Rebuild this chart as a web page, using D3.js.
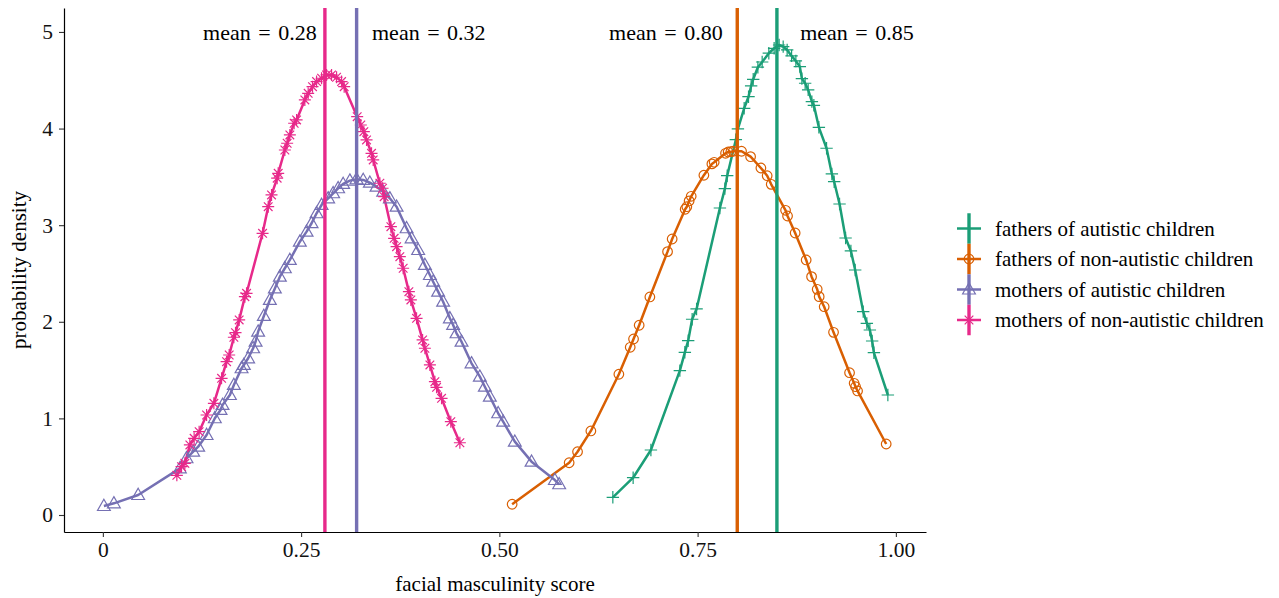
<!DOCTYPE html>
<html>
<head>
<meta charset="utf-8">
<script src="https://cdn.jsdelivr.net/npm/d3@7"></script>
<style>
  html, body { margin: 0; padding: 0; background: #fff; }
  svg { display: block; }
  text { font-family: "Liberation Serif", "DejaVu Serif", serif; }
</style>
</head>
<body>
<svg id="chart" width="1279" height="598"></svg>
<script>
// ---------- data ----------
const seriesNames = ["fathers of autistic children", "fathers of non-autistic children",
                     "mothers of autistic children", "mothers of non-autistic children"];
const seriesColors = ["#1B9E77", "#D95F02", "#7570B3", "#E7298A"];
const seriesShapes = ["plus", "circle", "triangle", "asterisk"];

const meanValues = [0.85, 0.80, 0.32, 0.28];
const meanLabels = ["mean = 0.85", "mean = 0.80", "mean = 0.32", "mean = 0.28"];
const meanLabelX = [0.951, 0.710, 0.411, 0.198];
const meanLabelY = 5;

const xTicks = [0, 0.25, 0.5, 0.75, 1];
const xTickLabels = ["0", "0.25", "0.50", "0.75", "1.00"];
const yTicks = [0, 1, 2, 3, 4, 5];

// fathers of autistic children: [score, density]
const fathersAutistic = [
  [0.6431,0.183],[0.6687,0.386],[0.6911,0.673],[0.7276,1.494],[0.7339,1.684],[0.7381,1.804],
  [0.7431,2.026],[0.7487,2.133],[0.7781,3.178],[0.7844,3.378],[0.7873,3.512],[0.7982,3.885],
  [0.8008,3.996],[0.8087,4.210],[0.8142,4.330],[0.8175,4.441],[0.8201,4.510],[0.8260,4.635],
  [0.8314,4.689],[0.8398,4.780],[0.8465,4.831],[0.8528,4.865],[0.8579,4.848],[0.8629,4.814],
  [0.8685,4.752],[0.8739,4.700],[0.8789,4.641],[0.8815,4.517],[0.8856,4.469],[0.8894,4.400],
  [0.8941,4.279],[0.8966,4.241],[0.9029,4.013],[0.9126,3.796],[0.9193,3.530],[0.9222,3.450],
  [0.9290,3.219],[0.9366,2.867],[0.9433,2.733],[0.9487,2.536],[0.9588,2.105],[0.9634,1.984],
  [0.9672,1.915],[0.9701,1.801],[0.9723,1.680],[0.9899,1.242]
];
// fathers of non-autistic children
const fathersNonAutistic = [
  [0.5161,0.111],[0.5880,0.541],[0.5986,0.655],[0.6154,0.870],[0.6507,1.457],[0.6650,1.736],
  [0.6692,1.822],[0.6763,1.964],[0.6898,2.257],[0.7121,2.726],[0.7179,2.857],[0.7343,3.165],
  [0.7364,3.191],[0.7393,3.251],[0.7419,3.299],[0.7579,3.517],[0.7680,3.634],[0.7709,3.651],
  [0.7852,3.744],[0.7885,3.758],[0.7919,3.761],[0.7948,3.765],[0.8054,3.765],[0.8168,3.709],
  [0.8298,3.592],[0.8377,3.512],[0.8428,3.423],[0.8609,3.154],[0.8634,3.095],[0.8730,2.919],
  [0.8869,2.640],[0.8937,2.467],[0.9008,2.336],[0.9033,2.260],[0.9096,2.156],[0.9214,1.891],
  [0.9416,1.473],[0.9474,1.363],[0.9492,1.328],[0.9517,1.284],[0.9878,0.735]
];
// mothers of autistic children
const mothersAutistic = [
  [0.0013,0.093],[0.0139,0.121],[0.0445,0.207],[0.0971,0.483],[0.1055,0.587],[0.1139,0.655],
  [0.1202,0.707],[0.1308,0.828],[0.1412,1.001],[0.1484,1.087],[0.1509,1.139],[0.1602,1.242],
  [0.1652,1.346],[0.1749,1.519],[0.1778,1.553],[0.1832,1.622],[0.1895,1.726],[0.1926,1.794],
  [0.1958,1.898],[0.2030,2.060],[0.2106,2.226],[0.2169,2.345],[0.2232,2.467],[0.2295,2.554],
  [0.2358,2.640],[0.2484,2.829],[0.2569,2.933],[0.2632,3.020],[0.2695,3.123],[0.2758,3.209],
  [0.2841,3.278],[0.2904,3.330],[0.2967,3.382],[0.3030,3.427],[0.3115,3.461],[0.3199,3.475],
  [0.3283,3.468],[0.3367,3.440],[0.3451,3.399],[0.3535,3.347],[0.3619,3.278],[0.3704,3.191],
  [0.3830,2.968],[0.3893,2.864],[0.3976,2.743],[0.4061,2.588],[0.4124,2.484],[0.4165,2.415],
  [0.4228,2.312],[0.4291,2.208],[0.4376,2.036],[0.4417,1.967],[0.4460,1.881],[0.4523,1.794],
  [0.4649,1.570],[0.4754,1.432],[0.4817,1.328],[0.4880,1.225],[0.4985,1.053],[0.5048,0.966],
  [0.5195,0.759],[0.5406,0.552],[0.5700,0.362],[0.5754,0.318]
];
// mothers of non-autistic children
const mothersNonAutistic = [
  [0.0933,0.411],[0.0992,0.500],[0.1034,0.535],[0.1097,0.725],[0.1151,0.794],[0.1214,0.862],
  [0.1308,1.035],[0.1400,1.156],[0.1497,1.415],[0.1560,1.587],[0.1593,1.656],[0.1652,1.840],
  [0.1673,1.887],[0.1719,2.019],[0.1791,2.260],[0.1812,2.295],[0.2014,2.916],[0.2085,3.191],
  [0.2127,3.313],[0.2198,3.486],[0.2211,3.537],[0.2295,3.778],[0.2324,3.848],[0.2358,3.934],
  [0.2412,4.055],[0.2443,4.089],[0.2547,4.296],[0.2589,4.365],[0.2644,4.434],[0.2695,4.486],
  [0.2758,4.521],[0.2821,4.555],[0.2884,4.555],[0.2947,4.531],[0.3010,4.486],[0.3043,4.434],
  [0.3207,4.123],[0.3253,4.037],[0.3291,3.968],[0.3325,3.882],[0.3388,3.744],[0.3409,3.675],
  [0.3493,3.434],[0.3527,3.382],[0.3547,3.295],[0.3632,2.984],[0.3673,2.864],[0.3704,2.777],
  [0.3745,2.674],[0.3787,2.554],[0.3859,2.312],[0.3884,2.226],[0.3956,2.036],[0.4032,1.812],
  [0.4061,1.726],[0.4124,1.553],[0.4187,1.380],[0.4208,1.322],[0.4271,1.208],[0.4388,0.966],
  [0.4502,0.748]
];
const seriesData = [fathersAutistic, fathersNonAutistic, mothersAutistic, mothersNonAutistic];

// ---------- layout ----------
const svg = d3.select("#chart");
const plotL = 64, plotR = 926, plotT = 8, plotB = 532;
const x = d3.scaleLinear().domain([-0.049, 1.038]).range([plotL, plotR]);
const y = d3.scaleLinear().domain([-0.176, 5.248]).range([plotB, plotT]);

const FS_TICK = 21.5, FS_LEG = 21, FS_TITLE = 21, FS_MEAN = 22;

// shape path generator
function shapePath(kind, s) {
  const p = d3.path();
  if (kind === "plus") {
    p.moveTo(-s, 0); p.lineTo(s, 0); p.moveTo(0, -s); p.lineTo(0, s);
  } else if (kind === "circle") {
    p.moveTo(s, 0);
    p.arc(0, 0, s, 0, 2 * Math.PI);
  } else if (kind === "triangle") {
    const h = s;
    p.moveTo(0, -h * 1.05); p.lineTo(h, h * 0.7); p.lineTo(-h, h * 0.7); p.closePath();
  } else if (kind === "asterisk") {
    p.moveTo(-s, 0); p.lineTo(s, 0); p.moveTo(0, -s); p.lineTo(0, s);
    const d = s * 0.72;
    p.moveTo(-d, -d); p.lineTo(d, d); p.moveTo(-d, d); p.lineTo(d, -d);
  }
  return p.toString();
}
const markerSize = [6.2, 4.8, 6.4, 6.0];

// lines
const line = d3.line().x(d => x(d[0])).y(d => y(d[1]));
const gData = svg.append("g");
seriesData.forEach((data, i) => {
  gData.append("path")
    .datum(data)
    .attr("d", line)
    .attr("fill", "none")
    .attr("stroke", seriesColors[i])
    .attr("stroke-width", 2.5)
    .attr("stroke-linejoin", "round");
});
// points
seriesData.forEach((data, i) => {
  gData.append("g").selectAll("path")
    .data(data)
    .join("path")
    .attr("transform", d => `translate(${x(d[0])},${y(d[1])})`)
    .attr("d", shapePath(seriesShapes[i], markerSize[i]))
    .attr("fill", "none")
    .attr("stroke", seriesColors[i])
    .attr("stroke-width", 1.2);
});
// mean lines
meanValues.forEach((m, i) => {
  gData.append("line")
    .attr("x1", x(m)).attr("x2", x(m))
    .attr("y1", plotT).attr("y2", plotB)
    .attr("stroke", seriesColors[i])
    .attr("stroke-width", 3.4);
});
// mean labels
meanLabels.forEach((t, i) => {
  svg.append("text")
    .attr("x", x(meanLabelX[i]))
    .attr("y", y(meanLabelY))
    .attr("dy", "0.35em")
    .attr("text-anchor", "middle")
    .attr("font-size", FS_MEAN)
    .attr("word-spacing", 2)
    .attr("fill", "#000")
    .text(t);
});

// axes
const xAxis = d3.axisBottom(x).tickValues(xTicks)
  .tickFormat((d, i) => xTickLabels[i]).tickSizeInner(5).tickSizeOuter(0).tickPadding(5);
const gx = svg.append("g").attr("transform", `translate(0,${plotB})`).call(xAxis);
const yAxis = d3.axisLeft(y).tickValues(yTicks).tickFormat(d3.format("d"))
  .tickSizeInner(5).tickSizeOuter(0).tickPadding(6);
const gy = svg.append("g").attr("transform", `translate(${plotL},0)`).call(yAxis);
[gx, gy].forEach(g => {
  g.selectAll("path.domain").attr("stroke", "#000").attr("stroke-width", 1.2);
  g.selectAll(".tick line").attr("stroke", "#333").attr("stroke-width", 1.1);
  g.selectAll("text").attr("font-size", FS_TICK).attr("fill", "#111")
    .attr("font-family", '"Liberation Serif", serif');
});

// axis titles
svg.append("text")
  .attr("x", (plotL + plotR) / 2).attr("y", 591)
  .attr("text-anchor", "middle").attr("font-size", FS_TITLE)
  .text("facial masculinity score");
svg.append("text")
  .attr("transform", `translate(26,${(plotT + plotB) / 2}) rotate(-90)`)
  .attr("text-anchor", "middle").attr("font-size", FS_TITLE)
  .text("probability density");

// legend
const legX = 969, legY0 = 228.5, legDY = 30.5;
const gLeg = svg.append("g");
seriesNames.forEach((name, i) => {
  const cy = legY0 + i * legDY;
  const g = gLeg.append("g").attr("transform", `translate(${legX},${cy})`);
  g.append("line").attr("x1", 0).attr("x2", 0).attr("y1", -legDY / 2).attr("y2", legDY / 2)
    .attr("stroke", seriesColors[i]).attr("stroke-width", 3.4);
  g.append("line").attr("x1", -12).attr("x2", 12).attr("y1", 0).attr("y2", 0)
    .attr("stroke", seriesColors[i]).attr("stroke-width", 2.5);
  g.append("path").attr("d", shapePath(seriesShapes[i], markerSize[i]))
    .attr("fill", "none").attr("stroke", seriesColors[i]).attr("stroke-width", 1.2);
  g.append("text").attr("x", 26).attr("y", 0).attr("dy", "0.35em")
    .attr("font-size", FS_LEG).text(name);
});
</script>
</body>
</html>
